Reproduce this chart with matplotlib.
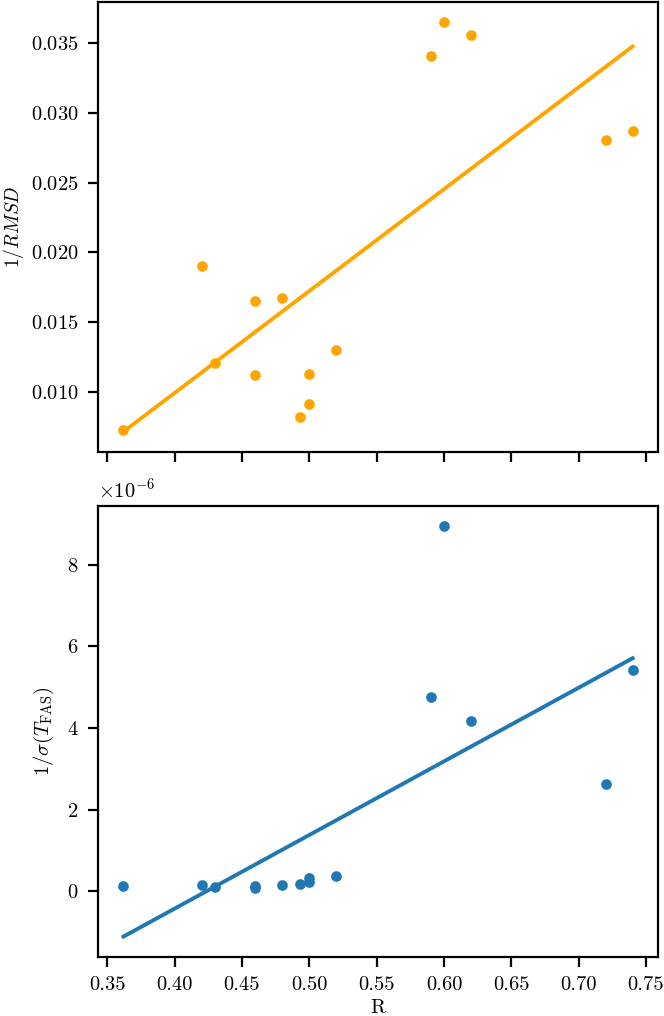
import numpy as np
import matplotlib
matplotlib.use("Agg")
import matplotlib.pyplot as plt

# Data
R = [0.362, 0.42, 0.43, 0.46, 0.46, 0.48, 0.493, 0.50, 0.50, 0.52,
     0.59, 0.60, 0.62, 0.72, 0.74]
inv_rmsd = [0.0073, 0.0190, 0.0121, 0.0165, 0.0112, 0.0167, 0.0082, 0.0113, 0.0091, 0.0130,
            0.0341, 0.0365, 0.0356, 0.0281, 0.0287]
inv_sigma = [0.12e-6, 0.16e-6, 0.09e-6, 0.12e-6, 0.08e-6, 0.16e-6, 0.17e-6, 0.33e-6, 0.23e-6, 0.37e-6,
             4.77e-6, 8.94e-6, 4.17e-6, 2.63e-6, 5.43e-6]

plt.rcParams["font.family"] = "serif"
plt.rcParams["font.serif"] = ["cmr10"]
plt.rcParams["mathtext.fontset"] = "cm"
plt.rcParams["axes.formatter.use_mathtext"] = True
plt.rcParams["font.size"] = 7.4
plt.rcParams["axes.unicode_minus"] = True

fig = plt.figure(figsize=(3.32, 5.08), dpi=200)
ax1 = fig.add_axes([0.1476, 0.555, 0.8434, 0.443])
ax2 = fig.add_axes([0.1476, 0.058, 0.8434, 0.444], sharex=ax1)

x = np.array(R)
xs = np.array([x.min(), x.max()])

# top: 1/RMSD
ax1.scatter(R, inv_rmsd, s=8, color="orange", zorder=3)
k, b = np.polyfit(x, inv_rmsd, 1)
ax1.plot(xs, k * xs + b, color="orange", lw=1.4)
ax1.set_ylabel(r"$1/RMSD$", fontsize=7.0)
ax1.yaxis.set_label_coords(-0.128, 0.5)
ax1.tick_params(labelbottom=False)

# bottom: 1/sigma(T_FAS)
ax2.scatter(R, inv_sigma, s=8, color="#1f77b4", zorder=3)
k, b = np.polyfit(x, inv_sigma, 1)
ax2.plot(xs, k * xs + b, color="#1f77b4", lw=1.4)
ax2.set_ylabel(r"$1/\sigma(T_{\rm FAS})$")
ax2.yaxis.set_label_coords(-0.075, 0.5)
ax2.set_xlabel("R", labelpad=1.5)
ax2.set_xticks(np.arange(0.35, 0.76, 0.05))
ax2.set_xticklabels([f"{t:.2f}" for t in np.arange(0.35, 0.76, 0.05)])

plt.savefig("out.png", dpi=200)
